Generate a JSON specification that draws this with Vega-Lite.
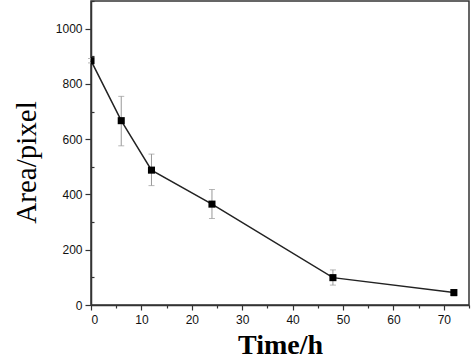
{
  "$schema": "https://vega.github.io/schema/vega-lite/v6.json",
  "width": 378,
  "height": 304,
  "autosize": {"type": "none"},
  "padding": {"left": 91, "top": 1, "right": 2, "bottom": 58},
  "config": {
    "view": {"stroke": "#333", "strokeWidth": 1.5},
    "axis": {"grid": false, "domainColor": "#333", "domainWidth": 1.5, "tickColor": "#333", "tickWidth": 1.2,
             "labelFont": "Liberation Sans", "labelFontSize": 12, "labelColor": "#111",
             "titleFont": "Liberation Serif", "titleColor": "#000"}
  },
  "data": {"values": [
    {"t": 0, "area": 884, "lo": 876, "hi": 892},
    {"t": 6, "area": 667, "lo": 576, "hi": 755},
    {"t": 12, "area": 488, "lo": 432, "hi": 546},
    {"t": 24, "area": 365, "lo": 313, "hi": 418},
    {"t": 48, "area": 99, "lo": 72, "hi": 127},
    {"t": 72, "area": 45, "lo": 33, "hi": 56}
  ]},
  "resolve": {"axis": {"x": "independent", "y": "independent"}},
  "layer": [
    {
      "mark": {"type": "rule", "color": "#999", "strokeWidth": 1},
      "encoding": {
        "x": {"field": "t", "type": "quantitative", "scale": {"domain": [0, 75], "nice": false},
              "axis": {"orient": "bottom", "values": [5,15,25,35,45,55,65,75], "labels": false, "domain": false, "tickSize": 3, "title": null}},
        "y": {"field": "lo", "type": "quantitative", "scale": {"domain": [0, 1100], "nice": false},
              "axis": {"orient": "left", "values": [100,300,500,700,900,1100], "labels": false, "domain": false, "tickSize": -3, "title": null}},
        "y2": {"field": "hi"}
      }
    },
    {
      "mark": {"type": "tick", "color": "#999", "thickness": 1, "size": 6, "orient": "horizontal"},
      "encoding": {
        "x": {"field": "t", "type": "quantitative", "axis": null},
        "y": {"field": "lo", "type": "quantitative", "axis": null}
      }
    },
    {
      "mark": {"type": "tick", "color": "#999", "thickness": 1, "size": 6, "orient": "horizontal"},
      "encoding": {
        "x": {"field": "t", "type": "quantitative", "axis": null},
        "y": {"field": "hi", "type": "quantitative", "axis": null}
      }
    },
    {
      "mark": {"type": "line", "color": "#222", "strokeWidth": 1.5},
      "encoding": {
        "x": {"field": "t", "type": "quantitative", "axis": null},
        "y": {"field": "area", "type": "quantitative", "axis": null}
      }
    },
    {
      "mark": {"type": "square", "color": "#000", "filled": true, "opacity": 1, "size": 50, "clip": true},
      "encoding": {
        "x": {"field": "t", "type": "quantitative",
              "axis": {"orient": "bottom", "values": [0,10,20,30,40,50,60,70], "tickSize": 5, "labelPadding": 4,
                       "title": "Time/h", "titleFontSize": 28, "titleFontWeight": "bold", "titlePadding": 6}},
        "y": {"field": "area", "type": "quantitative",
              "axis": {"orient": "left", "values": [0,200,400,600,800,1000], "format": "d", "tickSize": 6, "labelPadding": 3,
                       "title": "Area/pixel", "titleFontSize": 29, "titleFontWeight": "normal", "titlePadding": 14, "titleY": 161}}
      }
    }
  ]
}
